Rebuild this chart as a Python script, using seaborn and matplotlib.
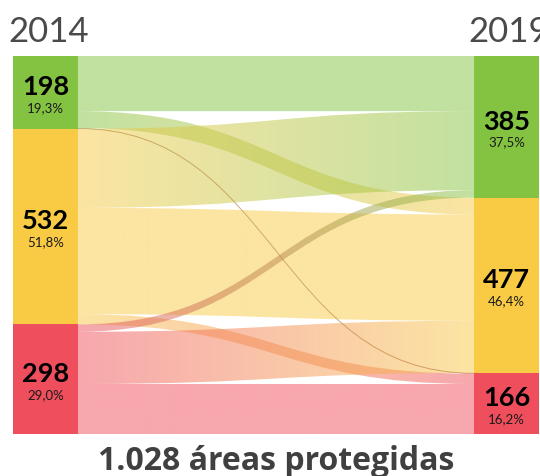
import numpy as np
import matplotlib
matplotlib.use("Agg")
import matplotlib.pyplot as plt
from matplotlib.path import Path
from matplotlib.patches import PathPatch, Rectangle
import matplotlib.colors as mcolors
import seaborn as sns

# ---------------- data ----------------
years = ["2014", "2019"]
categories = ["verde", "amarelo", "vermelho"]
left_totals = [198, 532, 298]
right_totals = [385, 477, 166]
left_pct = ["19,3%", "51,8%", "29,0%"]
right_pct = ["37,5%", "46,4%", "16,2%"]
# flows from each 2014 category to 2019 [verde, amarelo, vermelho]
flows_from_green = [150, 46, 2]
flows_from_yellow = [215, 289, 28]
flows_from_red = [20, 142, 136]
total_label = "1.028 áreas protegidas"

# ---------------- style ----------------
sns.set_theme(style="white")
plt.rcParams["font.family"] = ["Lato", "DejaVu Sans"]
palette = sns.color_palette(["#84c341", "#f9cb45", "#ef4f5c"])
LINK_ALPHA = 0.5

W, H = 540, 477
fig = plt.figure(figsize=(W / 100, H / 100), dpi=100)
ax = fig.add_axes([13 / W, 42 / H, 526 / W, 378 / H])
total = sum(left_totals)
NW = 65 / 526

flows = [flows_from_green, flows_from_yellow, flows_from_red]
left_start = np.concatenate([[0], np.cumsum(left_totals)[:-1]]).astype(float)
right_start = np.concatenate([[0], np.cumsum(right_totals)[:-1]]).astype(float)

x0, x1 = NW, 1 - NW
xm = (x0 + x1) / 2
src_off = left_start.copy()
tgt_off = right_start.copy()
ncol = 256
for i in range(3):
    for j in range(3):
        v = flows[i][j]
        ys = src_off[i]
        yt = tgt_off[j]
        src_off[i] += v
        tgt_off[j] += v
        verts = [(x0, ys), (xm, ys), (xm, yt), (x1, yt),
                 (x1, yt + v), (xm, yt + v), (xm, ys + v), (x0, ys + v), (x0, ys)]
        codes = [Path.MOVETO, Path.CURVE4, Path.CURVE4, Path.CURVE4,
                 Path.LINETO, Path.CURVE4, Path.CURVE4, Path.CURVE4, Path.CLOSEPOLY]
        patch = PathPatch(Path(verts, codes), facecolor="none", edgecolor="none")
        ax.add_patch(patch)
        cs = np.array(mcolors.to_rgb(palette[i]))
        ct = np.array(mcolors.to_rgb(palette[j]))
        t = np.linspace(0, 1, ncol)[:, None]
        rgb = cs * (1 - t) + ct * t
        img = np.concatenate([rgb, np.full((ncol, 1), LINK_ALPHA)], axis=1)[None, :, :]
        top = min(ys, yt) - 1
        bot = max(ys, yt) + v + 1
        im = ax.imshow(img, extent=(x0, x1, bot, top), aspect="auto",
                       interpolation="bilinear", origin="upper", zorder=1)
        im.set_clip_path(patch)
        if v < 5:
            # very thin flows: draw a thin centre line so they stay visible
            cverts = [(x0, ys + v / 2), (xm, ys + v / 2), (xm, yt + v / 2), (x1, yt + v / 2)]
            ccodes = [Path.MOVETO, Path.CURVE4, Path.CURVE4, Path.CURVE4]
            ax.add_patch(PathPatch(Path(cverts, ccodes), facecolor="none",
                                   edgecolor=tuple((cs + ct) / 2), lw=0.7,
                                   alpha=0.55, zorder=1.5))

# nodes
for k in range(3):
    for xn, starts, tots, pcts in [(0, left_start, left_totals, left_pct),
                                   (1 - NW, right_start, right_totals, right_pct)]:
        ax.add_patch(Rectangle((xn, starts[k]), NW, tots[k], facecolor=palette[k],
                               edgecolor="none", zorder=3))
        xc = xn + NW / 2
        yc = starts[k] + tots[k] / 2
        ax.annotate(str(tots[k]), (xc, yc), xytext=(0, 4.5), textcoords="offset points",
                    ha="center", va="center", fontsize=19.5, fontweight="bold",
                    color="black", zorder=4)
        ax.annotate(pcts[k], (xc, yc), xytext=(0, -10.5), textcoords="offset points",
                    ha="center", va="center", fontsize=9.5, color="#1a1a1a", zorder=4)

ax.set_xlim(0, 1)
ax.set_ylim(total, 0)
ax.axis("off")

fig.text(8 / W, 1 - 42 / H, years[0], fontsize=25, fontweight="normal",
         color="#4a4a4a", ha="left", va="baseline")
fig.text(468 / W, 1 - 42 / H, years[1], fontsize=25, fontweight="normal",
         color="#4a4a4a", ha="left", va="baseline")
fig.text(276 / W, 1 - 470 / H, total_label, fontsize=23, fontweight="bold",
         family=["Open Sans", "DejaVu Sans"],
         color="#404040", ha="center", va="baseline")

fig.savefig("out.png", dpi=100)
